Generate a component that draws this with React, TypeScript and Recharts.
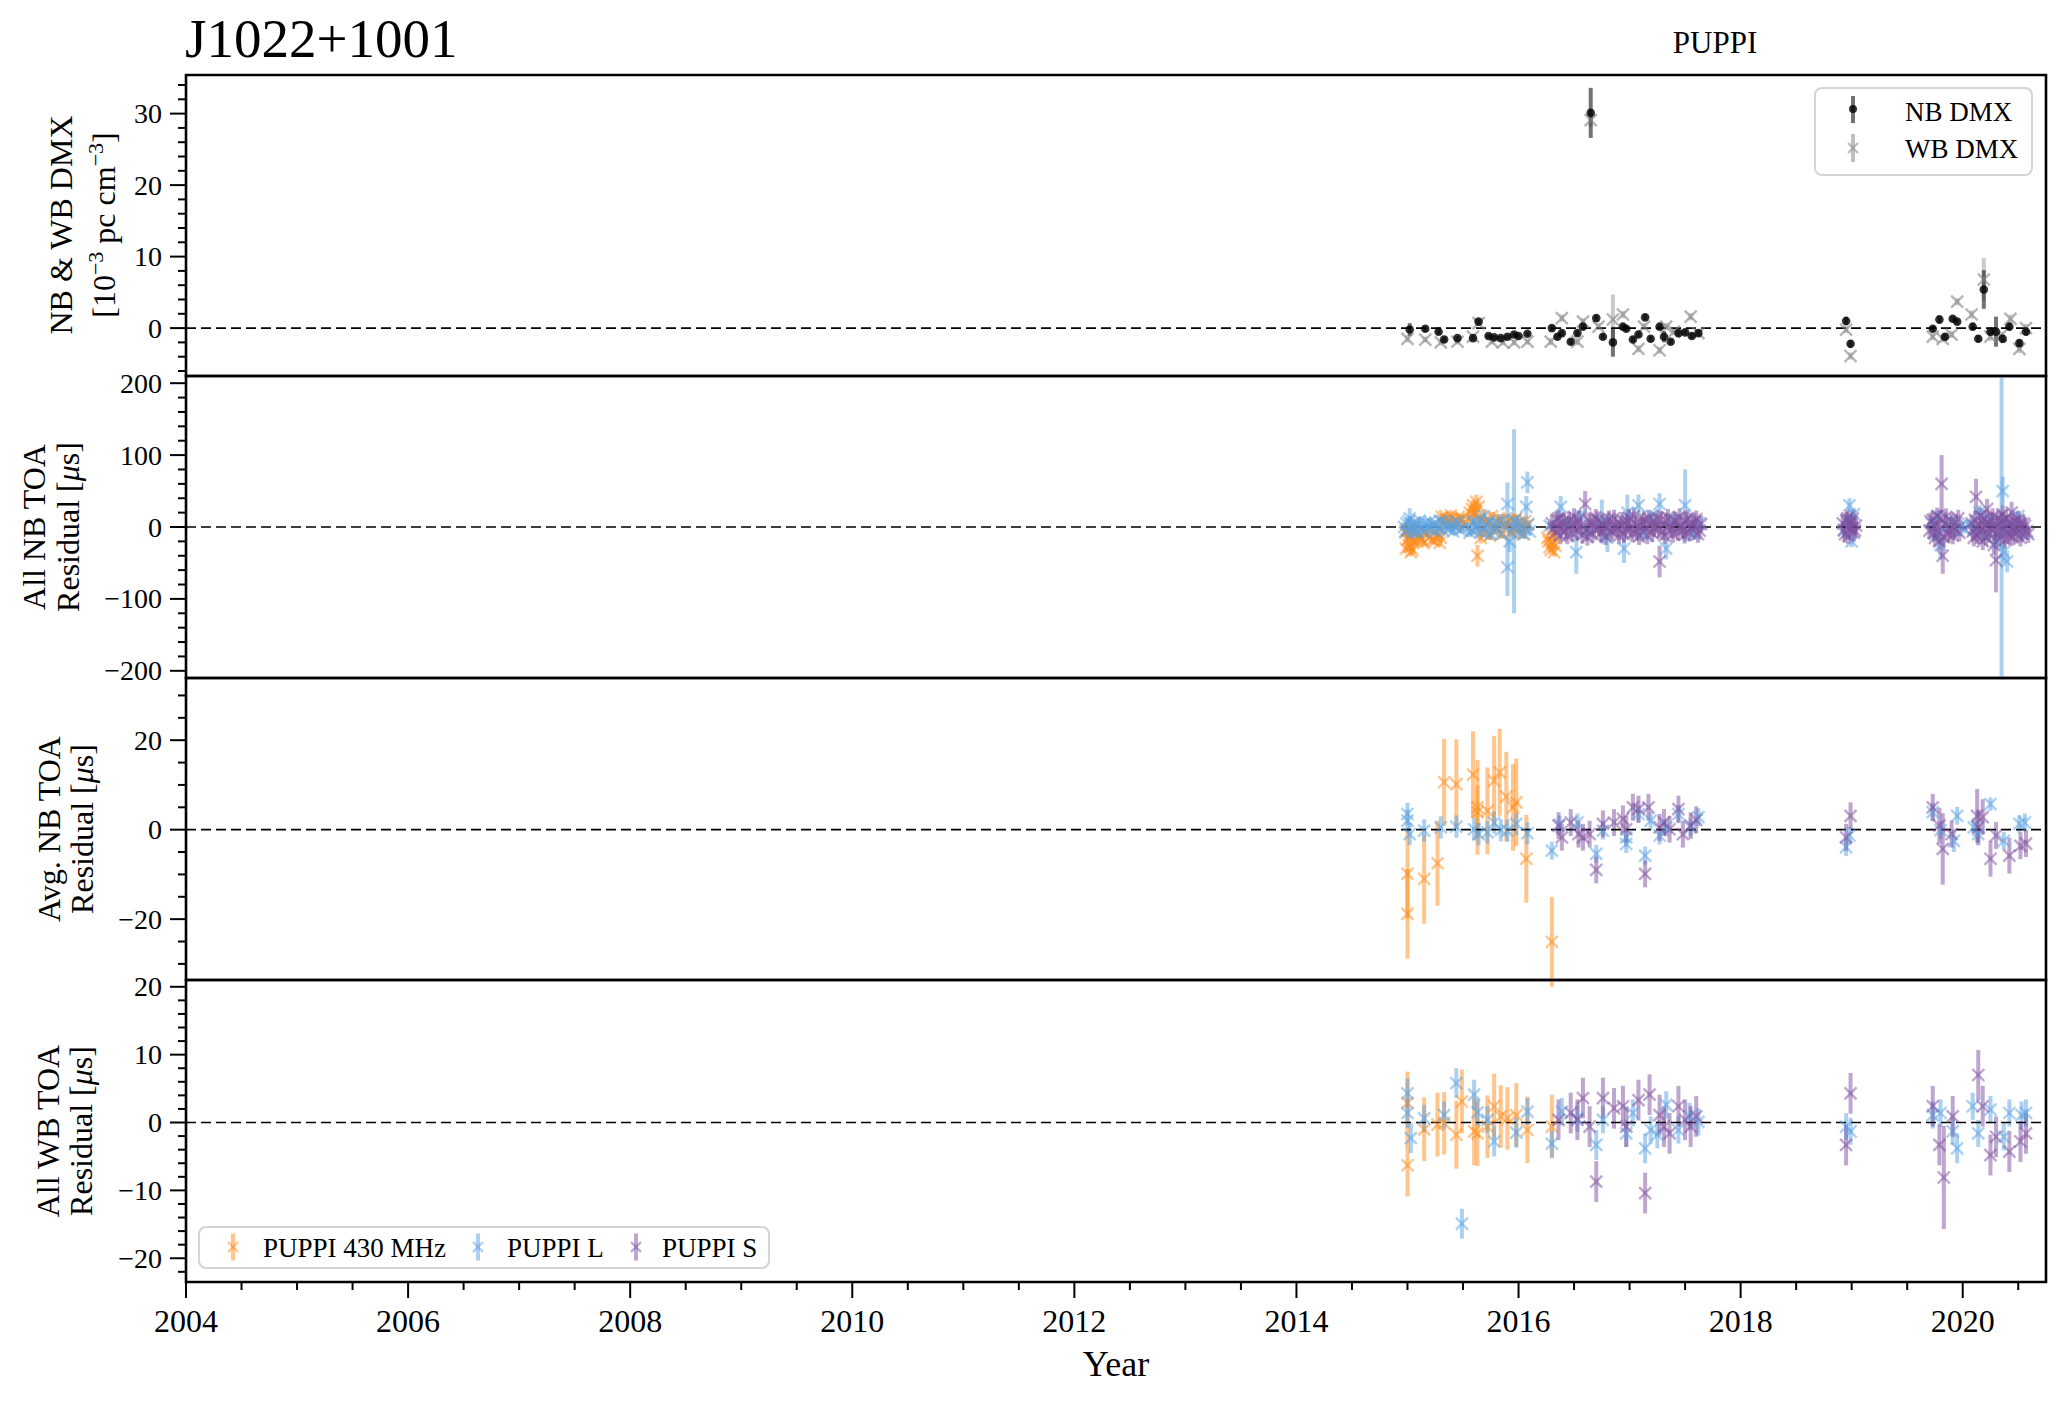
import React from "react";
import {
  ScatterChart,
  Scatter,
  XAxis,
  YAxis,
  ErrorBar,
  ReferenceLine,
  ReferenceArea,
} from "recharts";

// [year, value, error]
type Pt = [number, number, number];

const SERIF = "'Liberation Serif', 'DejaVu Serif', serif";

const ORANGE = "rgba(255,140,26,0.5)";
const BLUE = "rgba(90,162,226,0.5)";
const PURPLE = "rgba(125,78,158,0.5)";

// ---------- panel 1: DMX ----------
const nbDmx: Pt[] = [
  [2015.02, -0.2, 0.9], [2015.16, -0.1, 0.4], [2015.28, -0.5, 0.4], [2015.33, -1.6, 0.4],
  [2015.45, -1.4, 0.3], [2015.59, -1.4, 0.3], [2015.64, 0.9, 0.4], [2015.73, -1.1, 0.3],
  [2015.78, -1.3, 0.3], [2015.84, -1.4, 0.3], [2015.9, -1.2, 0.3], [2015.96, -0.9, 0.3],
  [2016.0, -1.1, 0.3], [2016.08, -0.8, 0.3], [2016.3, 0.0, 0.4], [2016.35, -1.2, 0.4],
  [2016.39, -0.7, 0.4], [2016.47, -1.9, 0.4], [2016.53, -0.7, 0.4], [2016.58, 0.2, 0.4],
  [2016.65, 30.1, 3.5], [2016.7, 1.4, 0.4], [2016.76, -1.2, 0.4], [2016.85, -2.0, 2.0],
  [2016.94, 0.2, 0.4], [2016.97, -0.1, 0.4], [2017.03, -1.6, 0.4], [2017.08, -0.9, 0.4],
  [2017.14, 1.5, 0.4], [2017.19, -1.5, 0.4], [2017.27, 0.2, 0.4], [2017.31, -1.2, 0.8],
  [2017.37, -1.9, 0.4], [2017.44, -0.7, 0.4], [2017.5, -0.6, 0.4], [2017.56, -1.1, 0.4],
  [2017.62, -0.7, 0.4], [2018.95, 1.0, 0.6], [2018.99, -2.2, 0.5], [2019.73, -0.1, 0.4],
  [2019.79, 1.2, 0.6], [2019.84, -1.2, 0.4], [2019.91, 1.3, 0.4], [2019.95, 0.9, 0.4],
  [2020.09, 0.2, 0.5], [2020.14, -1.5, 0.5], [2020.19, 5.4, 2.7], [2020.25, -0.5, 0.5],
  [2020.3, -0.5, 2.1], [2020.36, -1.5, 0.6], [2020.42, 0.2, 0.5], [2020.51, -2.1, 0.5],
  [2020.57, -0.5, 0.5],
];

const wbDmx: Pt[] = [
  [2015.0, -1.5, 0.5], [2015.16, -1.6, 0.4], [2015.3, -2.0, 0.4], [2015.45, -1.9, 0.4],
  [2015.59, -1.2, 0.4], [2015.64, 0.7, 0.4], [2015.76, -1.9, 0.4], [2015.86, -2.0, 0.4],
  [2015.96, -2.0, 0.4], [2016.08, -1.9, 0.4], [2016.29, -1.9, 0.5], [2016.39, 1.4, 0.5],
  [2016.53, -1.9, 0.5], [2016.58, 0.9, 0.5], [2016.65, 29.1, 1.0], [2016.72, 0.2, 0.5],
  [2016.85, 1.2, 3.5], [2016.94, 1.9, 0.5], [2017.08, -2.9, 0.5], [2017.13, 0.2, 0.5],
  [2017.27, -3.1, 0.5], [2017.33, 0.2, 0.5], [2017.4, -0.5, 0.5], [2017.55, 1.6, 0.5],
  [2017.62, -0.7, 0.5], [2018.95, -0.2, 0.5], [2018.99, -3.9, 0.5], [2019.73, -1.2, 0.5],
  [2019.82, -1.5, 0.5], [2019.9, -0.9, 0.5], [2019.95, 3.7, 0.5], [2020.08, 1.9, 0.6],
  [2020.19, 6.8, 3.0], [2020.25, -1.2, 0.6], [2020.34, -1.1, 0.6], [2020.43, 1.3, 0.6],
  [2020.51, -2.9, 0.6], [2020.57, 0.0, 0.6],
];

// ---------- panel 2: all NB TOA residuals ----------
const nbAll430: Pt[] = [
  [2014.98, -8, 6], [2014.985, -30, 6], [2014.995, -3, 6], [2015.0, -18, 6], [2015.01, -25, 7],
  [2015.015, -15, 6], [2015.02, -12, 6], [2015.025, -28, 6], [2015.03, -35, 6], [2015.035, -8, 6],
  [2015.04, -4, 6], [2015.045, -32, 6], [2015.05, -20, 6], [2015.09, -20, 5], [2015.1, -12, 5],
  [2015.115, -15, 5], [2015.13, -18, 5], [2015.145, -22, 5], [2015.16, -8, 5], [2015.18, -10, 5],
  [2015.2, -14, 5], [2015.22, -18, 5], [2015.24, -20, 5], [2015.26, -14, 5], [2015.27, -10, 5],
  [2015.29, -22, 5], [2015.3, -15, 5], [2015.31, 14, 5], [2015.32, 8, 5], [2015.34, 15, 5],
  [2015.35, 10, 5], [2015.37, 6, 5], [2015.39, 16, 5], [2015.4, 12, 5], [2015.42, 8, 5],
  [2015.44, 3, 5], [2015.46, 14, 5], [2015.47, 10, 5], [2015.49, 12, 5], [2015.5, 5, 5],
  [2015.55, 10, 6], [2015.56, 20, 6], [2015.58, 25, 8], [2015.59, 30, 8], [2015.6, 18, 8],
  [2015.61, 22, 8], [2015.62, 35, 10], [2015.63, -40, 15], [2015.64, 28, 8], [2015.65, 12, 6],
  [2015.66, -15, 8], [2015.68, -8, 6], [2015.7, 10, 6], [2015.72, 5, 6], [2015.74, -12, 6],
  [2015.76, 15, 6], [2015.78, 0, 6], [2015.8, -5, 6], [2015.82, 12, 6], [2015.84, 8, 6],
  [2015.86, -10, 6], [2015.88, 2, 6], [2015.9, 6, 6], [2015.92, 10, 6], [2015.94, -8, 6],
  [2015.96, -3, 6], [2015.98, 12, 6], [2016.0, 6, 6], [2016.02, -2, 6], [2016.04, -10, 6],
  [2016.06, 8, 6], [2016.08, 3, 6], [2016.26, -15, 6], [2016.27, -20, 6], [2016.28, -28, 6],
  [2016.29, -32, 6], [2016.3, -22, 6], [2016.31, -12, 6], [2016.32, -35, 6], [2016.33, -26, 6],
];

const nbAllL: Pt[] = [
  [2014.97, 0, 6], [2014.98, -6, 5], [2014.99, 5, 8], [2015.0, -5, 6], [2015.01, 8, 5],
  [2015.02, 12, 14], [2015.03, -3, 6], [2015.04, -8, 5], [2015.05, 3, 6], [2015.06, 6, 5],
  [2015.07, -2, 5], [2015.08, -6, 5], [2015.09, -8, 5], [2015.1, 4, 5], [2015.11, 9, 5],
  [2015.13, -2, 5], [2015.14, -6, 5], [2015.16, 6, 5], [2015.17, -3, 5], [2015.19, 0, 5],
  [2015.2, 7, 5], [2015.22, -4, 5], [2015.23, 3, 5], [2015.25, 5, 5], [2015.26, -6, 5],
  [2015.28, -1, 5], [2015.29, 9, 5], [2015.31, 8, 5], [2015.32, -5, 5], [2015.34, 2, 5],
  [2015.35, 6, 5], [2015.37, -3, 5], [2015.38, 1, 5], [2015.4, 4, 5], [2015.41, -6, 5],
  [2015.43, 0, 5], [2015.44, 8, 5], [2015.46, 6, 5], [2015.47, -4, 5], [2015.49, -2, 5],
  [2015.55, 0, 6], [2015.56, -8, 6], [2015.58, -5, 6], [2015.59, 6, 6], [2015.6, 8, 6],
  [2015.62, -4, 6], [2015.63, 2, 6], [2015.65, 10, 6], [2015.66, -7, 6], [2015.68, 0, 6],
  [2015.69, 15, 10], [2015.71, -8, 6], [2015.72, 3, 6], [2015.74, 8, 6], [2015.75, -10, 8],
  [2015.77, -5, 6], [2015.78, 5, 6], [2015.8, -2, 6], [2015.81, 7, 6], [2015.84, -10, 6],
  [2015.86, 10, 8], [2015.87, 2, 6], [2015.9, 32, 30], [2015.9, -56, 40], [2015.96, 8, 128],
  [2015.92, -20, 15], [2015.93, -6, 6], [2015.95, 0, 6], [2015.97, 10, 6], [2015.98, 5, 6],
  [2016.0, -2, 6], [2016.01, -8, 8], [2016.03, 6, 6], [2016.05, -10, 6], [2016.08, 62, 15],
  [2016.07, 28, 15], [2016.06, -3, 6], [2016.09, 4, 6], [2016.1, -6, 6], [2016.28, 2, 6],
  [2016.38, 28, 15], [2016.45, 5, 8], [2016.52, -35, 30], [2016.56, 15, 8], [2016.62, -5, 8],
  [2016.75, 8, 30], [2016.8, -15, 20], [2016.95, -30, 20], [2016.98, 20, 25], [2017.08, 30, 15],
  [2017.12, -10, 8], [2017.2, 15, 8], [2017.27, 32, 15], [2017.33, -30, 15], [2017.4, 10, 8],
  [2017.5, 30, 50], [2017.58, -10, 8], [2017.63, 5, 8], [2018.93, -5, 8], [2018.96, 10, 8],
  [2018.98, 30, 10], [2019.0, -20, 8], [2019.02, 18, 8], [2019.72, 5, 8], [2019.75, -10, 8],
  [2019.78, 15, 8], [2019.8, -25, 20], [2019.85, 0, 8], [2019.9, 8, 8], [2019.95, -5, 8],
  [2019.99, 2, 6], [2020.02, -3, 6], [2020.05, 4, 6], [2020.1, -3, 8], [2020.15, 20, 10],
  [2020.2, -12, 8], [2020.25, 10, 8], [2020.3, -20, 10], [2020.36, 50, 20], [2020.35, -2, 210],
  [2020.37, -35, 15], [2020.4, -48, 15], [2020.45, 0, 8], [2020.5, 15, 8], [2020.55, -8, 8],
];

const nbAllS: Pt[] = [
  [2016.3, 5, 12], [2016.315, -2, 12], [2016.33, -8, 12], [2016.345, 10, 12], [2016.36, 12, 12],
  [2016.375, -12, 12], [2016.38, -3, 12], [2016.395, 6, 12], [2016.41, 8, 12], [2016.425, -5, 12],
  [2016.44, -12, 12], [2016.455, 9, 12], [2016.47, 3, 12], [2016.485, -9, 12], [2016.5, 14, 12],
  [2016.515, 4, 12], [2016.53, -6, 12], [2016.545, 11, 12], [2016.56, 2, 12], [2016.575, -11, 12],
  [2016.6, 32, 18], [2016.61, -4, 12], [2016.62, -14, 12], [2016.635, 8, 12], [2016.65, 6, 12],
  [2016.665, -10, 12], [2016.68, -3, 12], [2016.695, 13, 12], [2016.71, 10, 12], [2016.725, -1, 12],
  [2016.74, -9, 12], [2016.755, 5, 12], [2016.77, 1, 12], [2016.785, -13, 12], [2016.8, 7, 12],
  [2016.815, 11, 12], [2016.83, -5, 12], [2016.845, -7, 12], [2016.86, 12, 12], [2016.875, 3, 12],
  [2016.89, -2, 12], [2016.905, -12, 12], [2016.92, 4, 12], [2016.935, 9, 12], [2016.95, -10, 12],
  [2016.965, -4, 12], [2016.98, 8, 12], [2016.995, 13, 12], [2017.01, -3, 12], [2017.025, -9, 12],
  [2017.04, 15, 12], [2017.055, 4, 12], [2017.07, -7, 12], [2017.085, -13, 12], [2017.1, 2, 12],
  [2017.115, 7, 12], [2017.13, 10, 12], [2017.145, -2, 12], [2017.16, -12, 12], [2017.175, 12, 12],
  [2017.19, 5, 12], [2017.205, -9, 12], [2017.22, -2, 12], [2017.235, 6, 12], [2017.25, 12, 12],
  [2017.265, -4, 12], [2017.27, -48, 22], [2017.285, 10, 12], [2017.3, -6, 12], [2017.315, -12, 12],
  [2017.33, 8, 12], [2017.345, 13, 12], [2017.36, 0, 12], [2017.375, -3, 12], [2017.39, -10, 12],
  [2017.405, 9, 12], [2017.42, 6, 12], [2017.435, -7, 12], [2017.45, 14, 12], [2017.465, 2, 12],
  [2017.48, -4, 12], [2017.495, -11, 12], [2017.51, 9, 12], [2017.525, 12, 12], [2017.54, -8, 12],
  [2017.555, -2, 12], [2017.57, 3, 12], [2017.585, 7, 12], [2017.6, 11, 12], [2017.615, -10, 12],
  [2017.63, -5, 12], [2017.645, 4, 12], [2018.92, 5, 12], [2018.93, -4, 12], [2018.94, -10, 12],
  [2018.95, 9, 12], [2018.96, 12, 12], [2018.97, -12, 12], [2018.98, -3, 12], [2018.99, 4, 12],
  [2019.0, 8, 12], [2019.01, 12, 12], [2019.02, -8, 12], [2019.03, -5, 12], [2019.04, 2, 12],
  [2019.7, -5, 12], [2019.71, 8, 12], [2019.73, 10, 12], [2019.74, -8, 12], [2019.75, -15, 12],
  [2019.76, 2, 12], [2019.77, 15, 12], [2019.78, -6, 12], [2019.79, -20, 12], [2019.8, 12, 12],
  [2019.81, 60, 40], [2019.82, -40, 25], [2019.83, -14, 12], [2019.84, 5, 12], [2019.85, 14, 12],
  [2019.87, -10, 12], [2019.88, -4, 12], [2019.9, 8, 12], [2019.91, -12, 12], [2019.93, -3, 12],
  [2019.94, 6, 12], [2019.96, 12, 12], [2019.97, -8, 12], [2020.08, 5, 12], [2020.09, -6, 12],
  [2020.1, -15, 12], [2020.11, 10, 12], [2020.12, 42, 25], [2020.13, -12, 12], [2020.14, -8, 12],
  [2020.15, 2, 12], [2020.16, 15, 12], [2020.17, -4, 12], [2020.18, -20, 12], [2020.19, 12, 12],
  [2020.2, 3, 12], [2020.21, -14, 12], [2020.22, 25, 14], [2020.23, 6, 12], [2020.24, -10, 12],
  [2020.25, -2, 12], [2020.26, 8, 12], [2020.27, 14, 12], [2020.28, -25, 14], [2020.29, -8, 12],
  [2020.3, -46, 45], [2020.31, 3, 12], [2020.32, 12, 12], [2020.33, -15, 12], [2020.34, -5, 12],
  [2020.35, 7, 12], [2020.36, 18, 12], [2020.37, -3, 12], [2020.38, -18, 12], [2020.39, 12, 12],
  [2020.4, 5, 12], [2020.41, -8, 12], [2020.42, -12, 12], [2020.43, 4, 12], [2020.44, 20, 15],
  [2020.45, -14, 12], [2020.46, 0, 12], [2020.47, 9, 12], [2020.48, -8, 12], [2020.49, -2, 12],
  [2020.5, 10, 12], [2020.51, 4, 12], [2020.52, -15, 12], [2020.53, -9, 12], [2020.55, 5, 12],
  [2020.56, 2, 12], [2020.58, -6, 12], [2020.59, -10, 12],
];

// ---------- panel 3: averaged NB TOA residuals ----------
const nbAvg430: Pt[] = [
  [2015.0, -9.9, 10], [2015.0, -18.8, 10], [2015.15, -11.0, 10], [2015.27, -7.5, 9.5],
  [2015.33, 10.6, 9.7], [2015.44, 10.2, 10], [2015.59, 12.3, 9.7], [2015.63, 5.0, 10.6],
  [2015.63, 3.9, 6], [2015.72, 4.2, 9.7], [2015.78, 10.9, 10], [2015.83, 12.8, 9.7],
  [2015.89, 7.4, 10], [2015.95, 5.0, 9.7], [2015.98, 6.1, 9.8], [2016.07, -6.5, 9.8],
  [2016.3, -25.1, 10],
];

const nbAvgL: Pt[] = [
  [2015.0, 3.5, 2.5], [2015.0, 2.0, 2.5], [2015.02, -1.0, 2.5], [2015.15, -0.2, 2.5],
  [2015.3, 0.5, 2.5], [2015.44, 0.7, 2.5], [2015.6, 0.1, 2.5], [2015.64, -1.0, 2.5],
  [2015.72, -0.6, 2.5], [2015.78, 1.6, 2.5], [2015.84, -0.1, 2.5], [2015.9, -0.2, 2.5],
  [2015.98, 1.3, 2.5], [2016.08, -0.8, 2.5], [2016.3, -4.7, 2], [2016.37, 1.1, 2],
  [2016.53, 1.6, 2], [2016.7, -5.4, 2], [2016.76, -0.2, 2], [2016.97, -1.7, 2],
  [2016.97, -3.2, 2], [2017.08, 3.5, 2], [2017.14, -5.8, 2], [2017.19, 2.0, 2],
  [2017.27, -1.3, 2], [2017.33, 0.5, 2], [2017.44, 3.5, 2], [2017.55, 0.5, 2],
  [2017.62, 2.8, 2], [2018.95, -3.9, 2], [2018.98, -1.3, 2], [2019.73, 3.9, 2],
  [2019.8, -0.1, 2], [2019.92, -2.5, 2.5], [2019.95, 3.1, 2], [2020.1, 0.5, 2],
  [2020.14, -1.0, 2], [2020.25, 5.7, 1.5], [2020.37, -2.5, 2], [2020.51, 1.3, 2],
  [2020.56, 1.6, 2],
];

const nbAvgS: Pt[] = [
  [2016.36, 0.9, 3], [2016.39, -1.7, 3], [2016.47, 1.6, 3], [2016.54, -1.0, 3],
  [2016.58, -1.7, 3], [2016.64, -1.0, 3], [2016.7, -9.0, 3], [2016.76, 1.3, 3],
  [2016.86, 1.6, 3], [2016.94, 2.4, 3], [2016.97, 0.1, 3], [2017.03, 5.0, 3],
  [2017.08, 4.6, 3], [2017.14, -9.9, 3], [2017.17, 5.0, 3], [2017.27, 0.5, 3],
  [2017.31, 1.6, 3], [2017.36, 0.1, 3], [2017.44, 4.6, 3], [2017.48, -1.0, 3],
  [2017.55, 0.9, 3], [2017.6, 2.2, 3], [2018.95, -1.7, 3], [2018.99, 3.1, 3],
  [2019.73, 5.0, 3], [2019.79, 0.9, 4], [2019.82, -4.3, 8], [2019.9, -1.0, 3],
  [2020.13, 3.1, 6], [2020.14, 0.5, 4], [2020.18, 2.8, 4], [2020.25, -6.5, 4],
  [2020.3, -1.3, 3], [2020.42, -5.8, 4], [2020.52, -3.6, 3], [2020.57, -3.1, 3],
];

// ---------- panel 4: all WB TOA residuals ----------
const wbAll430: Pt[] = [
  [2015.0, 2.9, 4.6], [2015.0, -6.3, 4.6], [2015.15, -1.0, 4.7], [2015.27, -0.3, 4.7],
  [2015.33, -0.1, 4.6], [2015.44, -1.8, 5.0], [2015.49, 3.1, 4.7], [2015.6, -1.3, 5.0],
  [2015.63, -1.6, 4.8], [2015.72, -0.6, 4.6], [2015.78, 2.4, 4.8], [2015.84, 0.9, 4.6],
  [2015.9, 0.6, 4.6], [2015.98, 1.1, 4.7], [2016.08, -1.1, 4.9], [2016.3, -0.6, 4.7],
];

const wbAllL: Pt[] = [
  [2015.0, 4.3, 2.2], [2015.0, 1.4, 2.2], [2015.03, -2.3, 2.2], [2015.15, 0.6, 2],
  [2015.33, 1.1, 2], [2015.44, 5.8, 2.2], [2015.49, -14.9, 2.2], [2015.6, 4.1, 2.2],
  [2015.63, 1.5, 2], [2015.72, 0.4, 2], [2015.78, -2.8, 2.2], [2015.98, -1.5, 2.2],
  [2016.08, 1.6, 2], [2016.3, -3.1, 2], [2016.39, 1.6, 2], [2016.53, 0.6, 2],
  [2016.7, -3.3, 2.2], [2016.76, 0.4, 2], [2016.97, -1.6, 2], [2017.03, 1.4, 2],
  [2017.14, -3.8, 2.2], [2017.19, -1.1, 2], [2017.25, -1.8, 2], [2017.33, 2.6, 2],
  [2017.44, -1.1, 2], [2017.54, 0.9, 2], [2017.62, 0.1, 2], [2018.95, -0.6, 2],
  [2018.99, -1.3, 2], [2019.73, 1.1, 2], [2019.8, 1.4, 2], [2019.91, -1.3, 2],
  [2019.95, -3.8, 2.2], [2020.09, 2.4, 2], [2020.14, -1.6, 2], [2020.25, 1.9, 2],
  [2020.37, -2.1, 2], [2020.42, 1.4, 2], [2020.53, 1.1, 2], [2020.57, 1.4, 2],
];

const wbAllS: Pt[] = [
  [2016.36, 0.4, 3], [2016.47, 1.4, 3], [2016.53, 0.4, 3], [2016.58, 3.6, 3],
  [2016.64, -0.6, 3], [2016.7, -8.7, 3], [2016.76, 3.6, 3], [2016.86, 2.1, 3],
  [2016.94, 2.4, 3], [2016.97, -0.6, 3], [2017.08, 3.3, 3], [2017.14, -10.4, 3],
  [2017.18, 4.1, 3], [2017.27, 1.1, 3], [2017.31, -0.6, 3], [2017.36, -1.6, 3],
  [2017.44, 2.4, 3], [2017.5, 0.4, 3], [2017.55, -0.6, 3], [2017.6, 0.9, 3],
  [2018.95, -3.3, 3], [2018.99, 4.3, 3], [2019.73, 2.4, 3], [2019.79, -3.3, 3],
  [2019.83, -8.1, 7.6], [2019.91, 0.9, 3], [2020.14, 7.0, 3.7], [2020.18, 2.4, 3],
  [2020.25, -4.8, 3], [2020.3, -2.1, 3], [2020.42, -4.3, 3], [2020.52, -2.8, 3],
  [2020.57, -1.6, 3],
];

// ---------- axes ----------
const X_DOMAIN: [number, number] = [2004, 2020.75];
const xMajor = [2004, 2006, 2008, 2010, 2012, 2014, 2016, 2018, 2020];

const steps = (lo: number, hi: number, d: number) => {
  const out: number[] = [];
  for (let v = lo; v <= hi + 1e-9; v += d) out.push(Math.round(v * 1000) / 1000);
  return out;
};
const xTicks = steps(2004, 2020.5, 0.5);

const near = (v: number, list: number[]) => list.some((m) => Math.abs(m - v) < 1e-6);
const fmt = (v: number) => (v < 0 ? `\u2212${Math.abs(v)}` : `${v}`);

const rows = (pts: Pt[]) => pts.map(([x, y, e]) => ({ x, y, e }));

const crossShape = (color: string, s = 6) => (p: any) => {
  const { cx, cy } = p;
  if (cx == null || cy == null) return <g />;
  return (
    <path
      d={`M${cx - s},${cy - s}L${cx + s},${cy + s}M${cx - s},${cy + s}L${cx + s},${cy - s}`}
      stroke={color}
      strokeWidth={2.4}
      fill="none"
    />
  );
};

const dotShape = (p: any) => {
  const { cx, cy } = p;
  if (cx == null || cy == null) return <g />;
  return <circle cx={cx} cy={cy} r={4.3} fill="rgba(0,0,0,0.8)" />;
};

const makeYTick = (majors: number[]) => (p: any) => {
  const { x, y, payload } = p;
  const v = payload.value;
  const major = near(v, majors);
  return (
    <g>
      <line x1={x - (major ? 16 : 8)} x2={x} y1={y} y2={y} stroke="#000" strokeWidth={2} />
      {major && (
        <text
          x={x - 24}
          y={y}
          textAnchor="end"
          dominantBaseline="central"
          fontSize={28}
          fontFamily={SERIF}
          fill="#000"
        >
          {fmt(v)}
        </text>
      )}
    </g>
  );
};

const xTick = (p: any) => {
  const { x, y, payload } = p;
  const major = near(payload.value, xMajor);
  return (
    <g>
      <line x1={x} x2={x} y1={y} y2={y + (major ? 16 : 8)} stroke="#000" strokeWidth={2} />
      {major && (
        <text x={x} y={y + 50} textAnchor="middle" fontSize={32} fontFamily={SERIF} fill="#000">
          {payload.value}
        </text>
      )}
    </g>
  );
};

interface Series {
  pts: Pt[];
  marker: "x" | "dot";
  color: string;
  bar: string;
}

interface PanelProps {
  top: number;
  height: number;
  domain: [number, number];
  majors: number[];
  minorStep: number;
  series: Series[];
  showX?: boolean;
}

const Panel: React.FC<PanelProps> = ({ top, height, domain, majors, minorStep, series, showX }) => {
  const lo = Math.ceil(domain[0] / minorStep) * minorStep;
  const yTicks = steps(lo, domain[1], minorStep);
  const xAxisH = 110;
  const chartH = 20 + height + (showX ? xAxisH : 20);

  return (
    <div style={{ position: "absolute", left: 0, top: top - 20 }}>
      <ScatterChart
        width={2065}
        height={chartH}
        margin={{ top: 20, right: 19, bottom: showX ? 0 : 20, left: 126 }}
      >
        <XAxis
          type="number"
          dataKey="x"
          domain={X_DOMAIN}
          allowDataOverflow
          ticks={xTicks}
          interval={0}
          hide={!showX}
          height={xAxisH}
          axisLine={false}
          tickLine={false}
          tickSize={0}
          tickMargin={0}
          tick={xTick}
        />
        <YAxis
          type="number"
          dataKey="y"
          domain={domain}
          allowDataOverflow
          ticks={yTicks}
          interval={0}
          width={60}
          axisLine={false}
          tickLine={false}
          tickSize={0}
          tickMargin={0}
          tick={makeYTick(majors)}
        />
        {series.map((s, i) => (
          <Scatter
            key={i}
            data={rows(s.pts)}
            isAnimationActive={false}
            shape={s.marker === "dot" ? dotShape : crossShape(s.color)}
          >
            <ErrorBar dataKey="e" direction="y" width={0} stroke={s.bar} strokeWidth={4} />
          </Scatter>
        ))}
        <ReferenceLine y={0} stroke="#000" strokeWidth={1.6} strokeDasharray="10 5" />
        <ReferenceArea
          x1={X_DOMAIN[0]}
          x2={X_DOMAIN[1]}
          y1={domain[0]}
          y2={domain[1]}
          fill="none"
          fillOpacity={0}
          stroke="#000"
          strokeWidth={2.6}
        />
      </ScatterChart>
    </div>
  );
};

const LegendCross: React.FC<{ x: number; y: number; color: string; h: number }> = ({ x, y, color, h }) => (
  <g>
    <line x1={x} x2={x} y1={y - h / 2} y2={y + h / 2} stroke={color} strokeWidth={4} />
    <path d={`M${x - 5},${y - 5}L${x + 5},${y + 5}M${x - 5},${y + 5}L${x + 5},${y - 5}`} stroke={color} strokeWidth={2.4} />
  </g>
);

const YLabel: React.FC<{ cy: number; x1: number; x2: number; line1: string; line2: React.ReactNode }> = ({
  cy,
  x1,
  x2,
  line1,
  line2,
}) => (
  <g fontFamily={SERIF} fontSize={32} fill="#000">
    <text transform={`translate(${x1},${cy}) rotate(-90)`} textAnchor="middle">
      {line1}
    </text>
    <text transform={`translate(${x2},${cy}) rotate(-90)`} textAnchor="middle">
      {line2}
    </text>
  </g>
);

const residual = (
  <>
    Residual [<tspan fontStyle="italic">μ</tspan>s]
  </>
);

export default function App() {
  return (
    <div
      style={{
        position: "absolute",
        left: 0,
        top: 0,
        width: 2065,
        height: 1404,
        background: "#fff",
        overflow: "hidden",
      }}
    >
      <Panel
        top={75}
        height={301}
        domain={[-6.7, 35.4]}
        majors={[0, 10, 20, 30]}
        minorStep={2}
        series={[
          { pts: wbDmx, marker: "x", color: "rgba(130,130,130,0.6)", bar: "rgba(150,150,150,0.5)" },
          { pts: nbDmx, marker: "dot", color: "#000", bar: "rgba(40,40,40,0.65)" },
        ]}
      />
      <Panel
        top={376}
        height={302}
        domain={[-210, 210]}
        majors={[-200, -100, 0, 100, 200]}
        minorStep={20}
        series={[
          { pts: nbAll430, marker: "x", color: ORANGE, bar: ORANGE },
          { pts: nbAllL, marker: "x", color: BLUE, bar: BLUE },
          { pts: nbAllS, marker: "x", color: PURPLE, bar: PURPLE },
        ]}
      />
      <Panel
        top={678}
        height={302}
        domain={[-33.6, 33.9]}
        majors={[-20, 0, 20]}
        minorStep={5}
        series={[
          { pts: nbAvg430, marker: "x", color: ORANGE, bar: ORANGE },
          { pts: nbAvgL, marker: "x", color: BLUE, bar: BLUE },
          { pts: nbAvgS, marker: "x", color: PURPLE, bar: PURPLE },
        ]}
      />
      <Panel
        top={980}
        height={302}
        domain={[-23.5, 21]}
        majors={[-20, -10, 0, 10, 20]}
        minorStep={2}
        showX
        series={[
          { pts: wbAll430, marker: "x", color: ORANGE, bar: ORANGE },
          { pts: wbAllL, marker: "x", color: BLUE, bar: BLUE },
          { pts: wbAllS, marker: "x", color: PURPLE, bar: PURPLE },
        ]}
      />

      <svg
        width={2065}
        height={1404}
        style={{ position: "absolute", left: 0, top: 0, pointerEvents: "none" }}
      >
        <text x={185} y={57} fontFamily={SERIF} fontSize={55} fill="#000">
          J1022+1001
        </text>
        <text x={1715} y={53} textAnchor="middle" fontFamily={SERIF} fontSize={31} fill="#000">
          PUPPI
        </text>
        <text x={1116} y={1376} textAnchor="middle" fontFamily={SERIF} fontSize={36} fill="#000">
          Year
        </text>

        <YLabel
          cy={225}
          x1={72}
          x2={115}
          line1="NB & WB DMX"
          line2={
            <>
              [10
              <tspan dy={-12} fontSize={22}>
                {"\u22123"}
              </tspan>
              <tspan dy={12}> pc cm</tspan>
              <tspan dy={-12} fontSize={22}>
                {"\u22123"}
              </tspan>
              <tspan dy={12}>]</tspan>
            </>
          }
        />
        <YLabel cy={527} x1={45} x2={79} line1="All NB TOA" line2={residual} />
        <YLabel cy={829} x1={60} x2={93} line1="Avg. NB TOA" line2={residual} />
        <YLabel cy={1131} x1={59} x2={92} line1="All WB TOA" line2={residual} />

        {/* DMX legend */}
        <rect x={1815} y={88} width={217} height={87} rx={7} fill="rgba(255,255,255,0.8)" stroke="#d4d4d4" strokeWidth={2} />
        <line x1={1853} x2={1853} y1={96} y2={123} stroke="rgba(40,40,40,0.65)" strokeWidth={4} />
        <circle cx={1853} cy={109} r={4} fill="rgba(0,0,0,0.8)" />
        <LegendCross x={1853} y={148} color="rgba(150,150,150,0.6)" h={28} />
        <g fontFamily={SERIF} fontSize={27} fill="#000">
          <text x={1905} y={112} dominantBaseline="central">NB DMX</text>
          <text x={1905} y={149} dominantBaseline="central">WB DMX</text>
        </g>

        {/* backend legend */}
        <rect x={199} y={1227} width={570} height={41} rx={7} fill="rgba(255,255,255,0.8)" stroke="#d4d4d4" strokeWidth={2} />
        <LegendCross x={233} y={1247} color={ORANGE} h={27} />
        <LegendCross x={478} y={1247} color={BLUE} h={27} />
        <LegendCross x={636} y={1247} color={PURPLE} h={27} />
        <g fontFamily={SERIF} fontSize={27} fill="#000">
          <text x={263} y={1248} dominantBaseline="central">PUPPI 430 MHz</text>
          <text x={507} y={1248} dominantBaseline="central">PUPPI L</text>
          <text x={662} y={1248} dominantBaseline="central">PUPPI S</text>
        </g>
      </svg>
    </div>
  );
}
